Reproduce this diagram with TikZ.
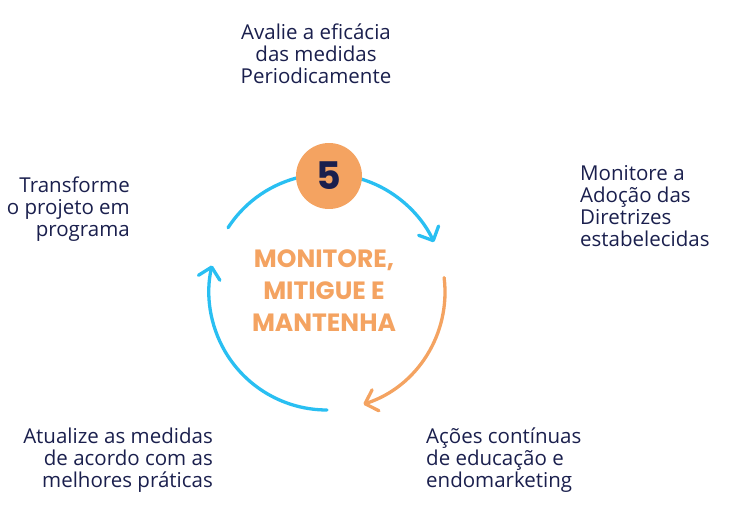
\documentclass[tikz,border=0pt]{standalone}
\usepackage{fontspec}
\setmainfont{Open Sans}
\newfontfamily\titlefont{Poppins}
\usepackage{tikz}
\usetikzlibrary{arrows.meta,positioning,calc}
\usepackage{xcolor}
\definecolor{navy}{RGB}{26,31,77}
\definecolor{skyblue}{RGB}{41,191,242}
\definecolor{peach}{RGB}{244,163,97}

\begin{document}
\begin{tikzpicture}[x=1pt,y=1pt,
  lbl/.style={text=navy,font=\fontsize{20.5}{22}\selectfont,inner sep=0pt},
  cyc/.style={line width=3.3pt,line cap=round,
              -{Straight Barb[length=11pt,width=22pt,line cap=round,line join=round]}},
  badge/.style={circle,fill=peach,minimum size=66pt,inner sep=0pt,text=navy,
                font=\titlefont\bfseries\fontsize{38}{40}\selectfont}]
\useasboundingbox (0,0) rectangle (731,517);
\coordinate (ctr) at (327,225);
% ring of arrows
\draw[cyc,skyblue] ($(ctr)+(147:118)$) arc[start angle=147,end angle=25,radius=118];
\draw[cyc,peach] ($(ctr)+(7:118)$) arc[start angle=7,end angle=-72,radius=118];
\draw[cyc,skyblue] ($(ctr)+(-90:118)$) arc[start angle=-90,end angle=-193,radius=118];
\node[badge] (num) at (329,341) {5};
\node[text=peach,align=center,font=\titlefont\bfseries\fontsize{25}{32}\selectfont]
  (title) at (324,226) {MONITORE,\\MITIGUE E\\MANTENHA};
% labels around the ring
\node[lbl,align=center] (lblTop) at (316,463) {Avalie a eficácia\\das medidas\\Periodicamente};
\node[lbl,align=right,anchor=east] (lblLeft) at (130,308) {Transforme\\o projeto em\\programa};
\node[lbl,align=left,anchor=west] (lblRight) at (580,311) {Monitore a\\Adoção das\\Diretrizes\\estabelecidas};
\node[lbl,align=right,anchor=east] (lblBotL) at (213,57) {Atualize as medidas\\de acordo com as\\melhores práticas};
\node[lbl,align=left,anchor=west] (lblBotR) at (426,57) {Ações contínuas\\de educação e\\endomarketing};
\end{tikzpicture}
\end{document}
